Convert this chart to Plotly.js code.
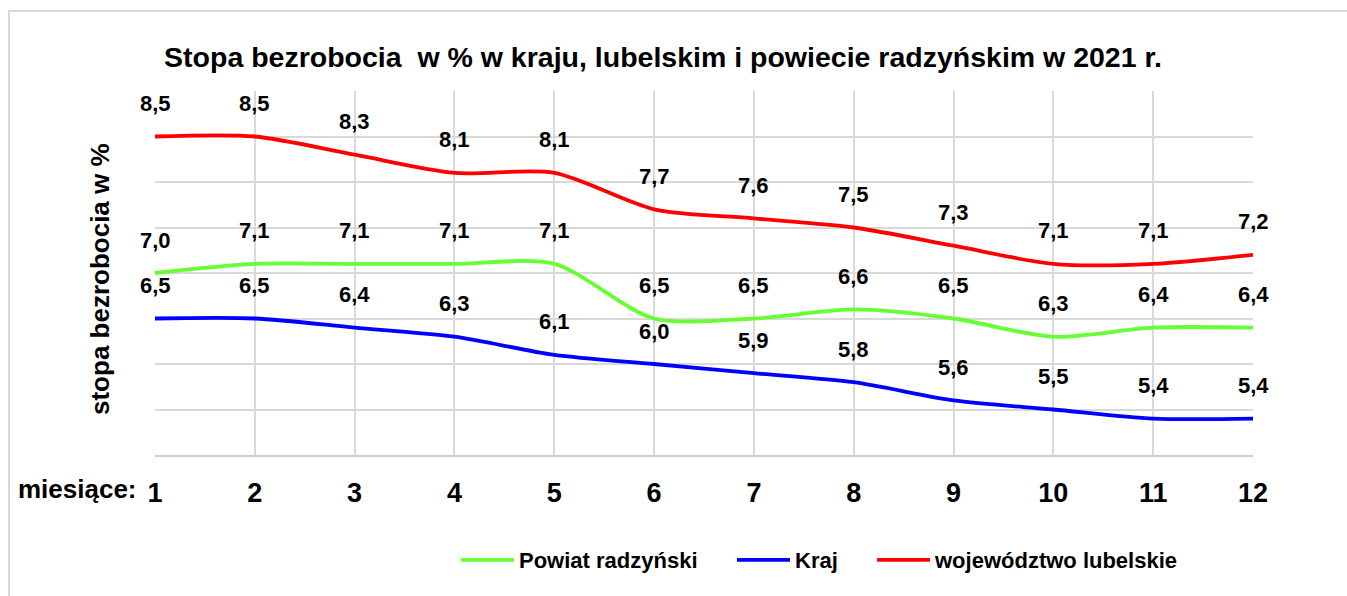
<!DOCTYPE html>
<html>
<head>
<meta charset="utf-8">
<script src="https://cdn.plot.ly/plotly-3.0.1.min.js"></script>
<style>
  html, body { margin: 0; padding: 0; background: #fff; }
  #wrap { position: relative; width: 1347px; height: 596px; overflow: hidden; }
  #chart { width: 1347px; height: 596px; }
  #frame { position: absolute; left: 8px; top: 10px; width: 1400px; height: 700px;
           border: 2px solid #d9d9d9; box-sizing: border-box; pointer-events: none; }
</style>
</head>
<body>
<div id="wrap">
  <div id="chart"></div>
  <div id="frame"></div>
</div>
<script>
const months = [1, 2, 3, 4, 5, 6, 7, 8, 9, 10, 11, 12];
const powiat = [7.0, 7.1, 7.1, 7.1, 7.1, 6.5, 6.5, 6.6, 6.5, 6.3, 6.4, 6.4];
const kraj = [6.5, 6.5, 6.4, 6.3, 6.1, 6.0, 5.9, 5.8, 5.6, 5.5, 5.4, 5.4];
const lubelskie = [8.5, 8.5, 8.3, 8.1, 8.1, 7.7, 7.6, 7.5, 7.3, 7.1, 7.1, 7.2];
const seriesNames = ['Powiat radzyński', 'Kraj', 'województwo lubelskie'];

const FONT = '"Liberation Sans Narrow", "Arial Narrow", "Liberation Sans", Arial, sans-serif';
const fmt = v => v.toFixed(1).replace('.', ',');

// plot area: x 155..1253, y 91..455
const PL = 155, PW = 1098, PT = 91, PH = 364;
const px = X => (X - PL) / PW;
const py = Y => (PT + PH - Y) / PH;

function mk(name, ys, color, legendId) {
  return {
    type: 'scatter', mode: 'lines', name: name, legend: legendId,
    x: months, y: ys,
    line: { color: color, width: 3.8, shape: 'spline', smoothing: 0.8 },
    hoverinfo: 'skip'
  };
}

const data = [
  mk(seriesNames[0], powiat, '#66FF33', 'legend'),
  mk(seriesNames[1], kraj, '#0000FF', 'legend2'),
  mk(seriesNames[2], lubelskie, '#FF0000', 'legend3')
];

const annotations = [];
[powiat, kraj, lubelskie].forEach(arr => {
  arr.forEach((v, i) => {
    annotations.push({
      x: months[i], y: v, xref: 'x', yref: 'y',
      text: fmt(v), showarrow: false, yshift: 33,
      font: { family: FONT, size: 22, color: '#000', weight: 'bold' }
    });
  });
});
annotations.push({
  xref: 'paper', yref: 'paper', x: px(100), y: py(279),
  text: 'stopa bezrobocia w %', textangle: -90, showarrow: false,
  xanchor: 'center', yanchor: 'middle',
  font: { family: FONT, size: 26, color: '#000', weight: 'bold' }
});
annotations.push({
  xref: 'paper', yref: 'paper', x: px(77), y: py(489),
  text: 'miesiące:', showarrow: false, xanchor: 'center', yanchor: 'middle',
  font: { family: FONT, size: 26, color: '#000', weight: 'bold' }
});

const legFont = { family: FONT, size: 22, color: '#000', weight: 'bold' };
function leg(xLeft) {
  return {
    orientation: 'h', x: px(xLeft), xanchor: 'left',
    y: py(560), yanchor: 'middle', font: legFont,
    itemwidth: 53, bgcolor: 'rgba(0,0,0,0)', borderwidth: 0
  };
}

const layout = {
  width: 1347, height: 596,
  margin: { l: PL, r: 1347 - PL - PW, t: PT, b: 596 - PT - PH },
  paper_bgcolor: '#fff', plot_bgcolor: '#fff',
  title: {
    text: 'Stopa bezrobocia&nbsp; w % w kraju, lubelskim i powiecie radzyńskim w 2021 r.',
    x: 663 / 1347, xanchor: 'center', xref: 'container',
    y: 1 - 57 / 596, yanchor: 'middle', yref: 'container',
    font: { family: FONT, size: 28.5, color: '#000', weight: 'bold' }
  },
  xaxis: {
    range: [1, 12], tickvals: months, ticktext: months.map(String),
    showgrid: true, gridcolor: '#d9d9d9', gridwidth: 2,
    zeroline: false, showline: true, linecolor: '#cfcfcf', linewidth: 2,
    ticks: 'outside', ticklen: 13, tickcolor: 'rgba(0,0,0,0)',
    tickfont: { family: FONT, size: 27, color: '#000', weight: 'bold' },
    fixedrange: true
  },
  yaxis: {
    range: [5, 9], dtick: 0.5, tick0: 5,
    showgrid: true, gridcolor: '#d9d9d9', gridwidth: 2,
    zeroline: false, showticklabels: false, showline: false,
    fixedrange: true
  },
  showlegend: true,
  legend: leg(456),
  legend2: leg(732),
  legend3: leg(872),
  annotations: annotations
};

Plotly.newPlot('chart', data, layout, { displayModeBar: false, staticPlot: true });
</script>
</body>
</html>
